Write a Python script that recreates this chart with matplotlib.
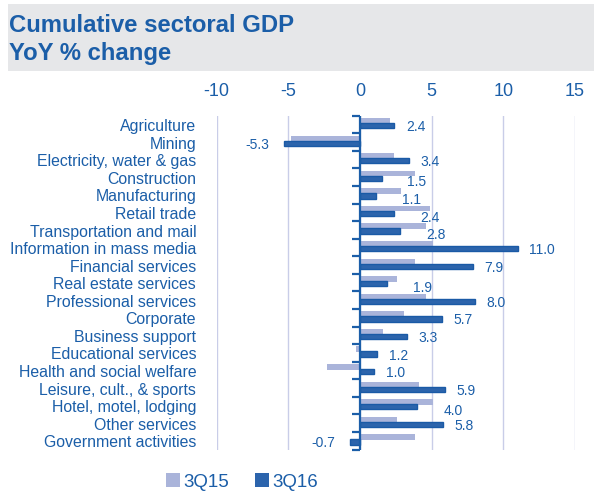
import matplotlib as mpl
mpl.use('Agg')
import matplotlib.pyplot as plt
import matplotlib.transforms as mtransforms
from matplotlib.lines import TICKLEFT
from matplotlib.patches import Rectangle, Patch
import numpy as np

sectors = ["Agriculture", "Mining", "Electricity, water & gas", "Construction",
           "Manufacturing", "Retail trade", "Transportation and mail",
           "Information in mass media", "Financial services",
           "Real estate services", "Professional services", "Corporate",
           "Business support", "Educational services",
           "Health and social welfare", "Leisure, cult., & sports",
           "Hotel, motel, lodging", "Other services", "Government activities"]
q3_15 = [2.1, -4.8, 2.35, 3.85, 2.85, 4.85, 4.6, 5.1, 3.85, 2.6,
         4.6, 3.1, 1.6, -0.3, -2.3, 4.1, 5.1, 2.6, 3.85]
q3_16 = [2.4, -5.3, 3.4, 1.5, 1.1, 2.4, 2.8, 11.0, 7.9, 1.9,
         8.0, 5.7, 3.3, 1.2, 1.0, 5.9, 4.0, 5.8, -0.7]
xticks = [-10, -5, 0, 5, 10, 15]

BLUE = '#1b5ea8'
DARK = '#2c64ac'
LIGHT = '#aab4da'
GRID = '#c9cde8'

plt.rcParams['font.family'] = ['Liberation Sans', 'DejaVu Sans']

fig = plt.figure(figsize=(5.94, 4.92), dpi=100)

# grey header band with the title
fig.patches.append(Rectangle((8/594, 1 - 71/492), 1 - 8/594, 67/492,
                             transform=fig.transFigure, facecolor='#e6e7e9',
                             edgecolor='none', zorder=0))
fig.text(9/594, 1 - 31.5/492, "Cumulative sectoral GDP", fontsize=17.2,
         fontweight='bold', color=BLUE, va='baseline')
fig.text(9/594, 1 - 60/492, "YoY % change", fontsize=17.2,
         fontweight='bold', color=BLUE, va='baseline')

ax = fig.add_axes([216.7/594, 1 - 449.5/492, (575 - 216.7)/594, (449.5 - 115.7)/492])

n = len(sectors)
y = np.arange(n)
ax.barh(y - 0.21, q3_15, height=0.32, color=LIGHT, zorder=2)
ax.barh(y + 0.07, q3_16, height=0.3, color=DARK, edgecolor='#1a5aa6',
        linewidth=1.0, zorder=3)

ax.set_xlim(-10, 15)
ax.set_ylim(n - 0.5, -0.5)
ax.xaxis.tick_top()
ax.set_xticks(xticks)
ax.set_xticklabels([str(t) for t in xticks])
ax.tick_params(axis='x', length=0, pad=11, labelsize=13, labelcolor=BLUE)
ax.set_yticks([])
for side in ['top', 'right', 'bottom', 'left']:
    ax.spines[side].set_visible(False)

for t in xticks:
    ax.axvline(t, color=GRID, lw=1.0, zorder=1)

# category axis sits on zero, with ticks between the rows
ax.axvline(0, color=BLUE, lw=1.6, zorder=4)
ax.plot(np.zeros(n + 1), np.arange(n + 1) - 0.5, ls='none', marker=TICKLEFT,
        ms=6, mew=1.6, color=BLUE, zorder=4, clip_on=False)

trans = mtransforms.blended_transform_factory(ax.transAxes, ax.transData)
for i, name in enumerate(sectors):
    ax.text(-20.5/358.3, i + 0.12, name, transform=trans, ha='right',
            va='center', fontsize=11.4, color=BLUE)

# value labels for 3Q16
for i, (a, b) in enumerate(zip(q3_15, q3_16)):
    if b < 0:
        ax.text(b - 1.05, i + 0.15, f"{b:.1f}", ha='right', va='center',
                fontsize=10, color=BLUE)
    elif a > b:
        ax.text(b + 1.8, i + 0.3, f"{b:.1f}", ha='left', va='center',
                fontsize=10, color=BLUE)
    else:
        ax.text(b + 0.8, i + 0.15, f"{b:.1f}", ha='left', va='center',
                fontsize=10, color=BLUE)

handles = [Patch(facecolor=LIGHT, edgecolor='none', label='3Q15'),
           Patch(facecolor=DARK, edgecolor='none', label='3Q16')]
fig.legend(handles=handles, loc='center left', ncol=2, frameon=False,
           bbox_to_anchor=(166/594, 1 - 482/492), fontsize=13.5,
           handlelength=0.75, handleheight=0.75, handletextpad=0.2,
           columnspacing=1.35, labelcolor=BLUE, borderpad=0, borderaxespad=0)

fig.savefig('out.png', dpi=100)
